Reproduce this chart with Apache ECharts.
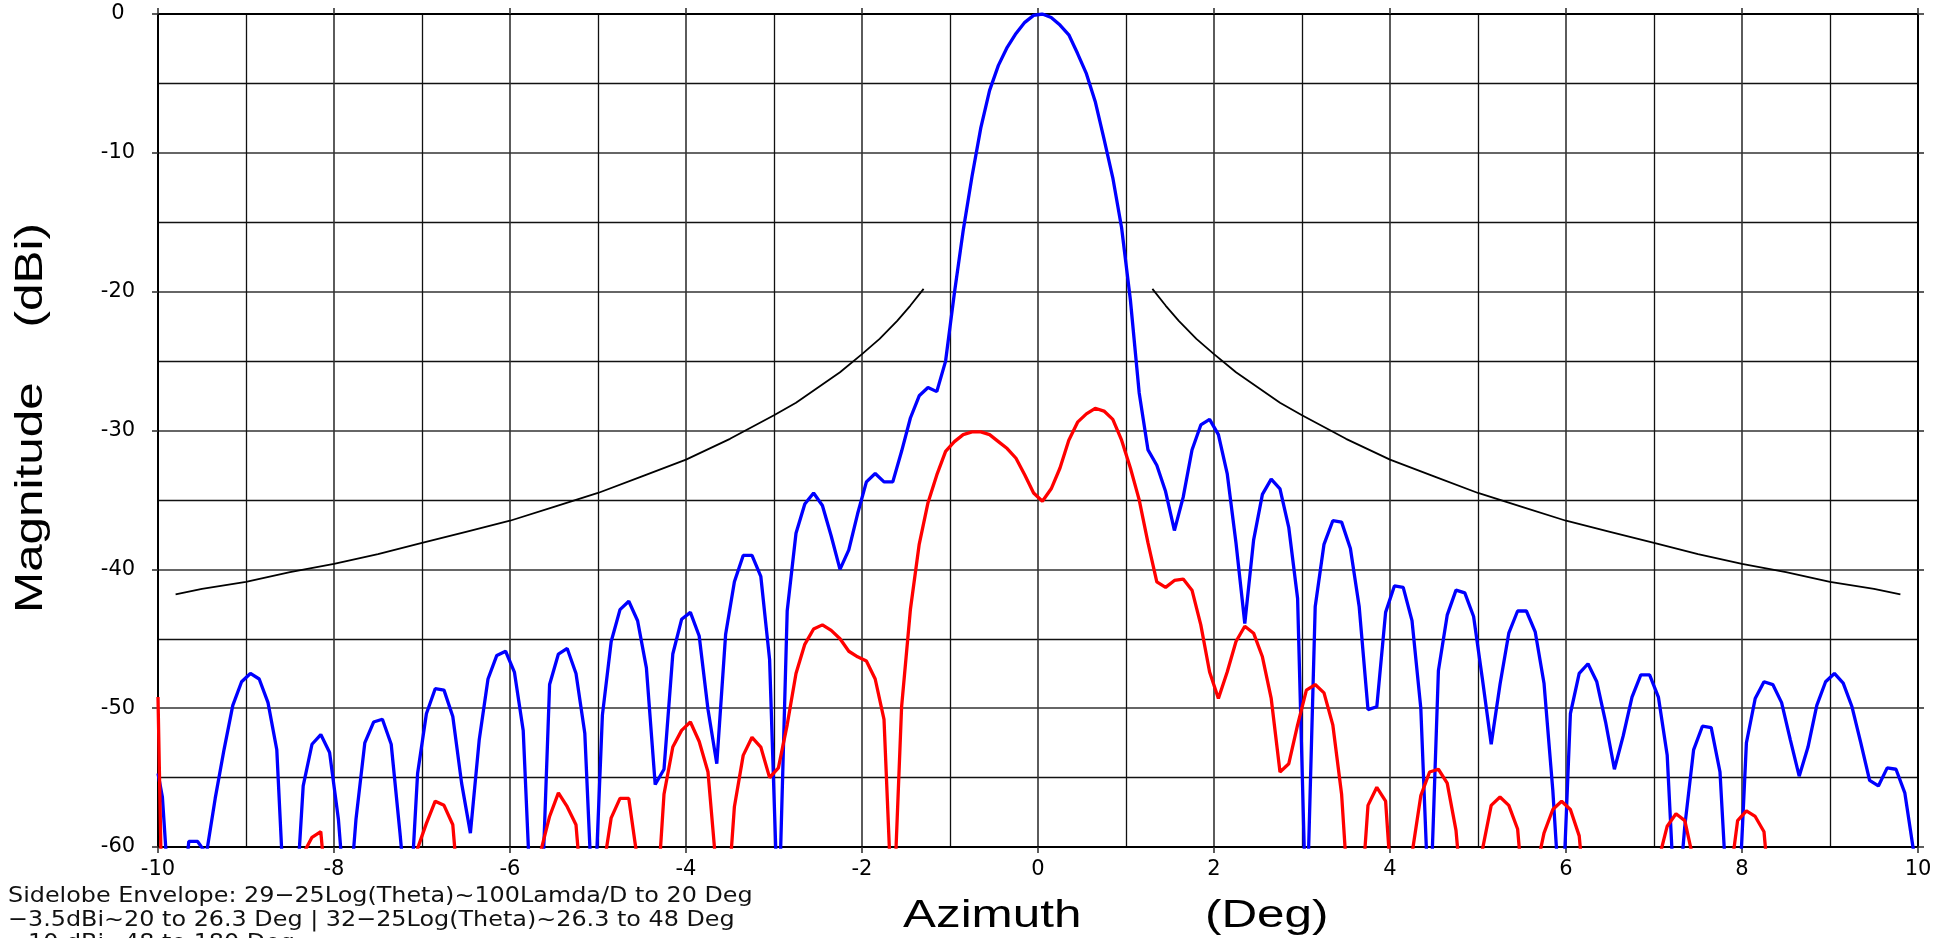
<!DOCTYPE html>
<html>
<head>
<meta charset="utf-8">
<title>Antenna pattern</title>
<script src="https://cdn.jsdelivr.net/npm/echarts@6/dist/echarts.min.js"></script>
<style>
html,body{margin:0;padding:0;background:#ffffff;}
#chart{width:1940px;height:938px;}
</style>
</head>
<body>
<div id="chart"></div>
<script>
// Azimuth samples (deg)
const azimuth = [
 -10,-9.95,-9.85,-9.75,-9.65,-9.55,-9.45,-9.35,-9.25,-9.15,
 -9.05,-8.95,-8.85,-8.75,-8.65,-8.55,-8.45,-8.35,-8.25,-8.15,
 -8.05,-7.95,-7.85,-7.75,-7.65,-7.55,-7.45,-7.35,-7.25,-7.15,
 -7.05,-6.95,-6.85,-6.75,-6.65,-6.55,-6.45,-6.35,-6.25,-6.15,
 -6.05,-5.95,-5.85,-5.75,-5.65,-5.55,-5.45,-5.35,-5.25,-5.15,
 -5.05,-4.95,-4.85,-4.75,-4.65,-4.55,-4.45,-4.35,-4.25,-4.15,
 -4.05,-3.95,-3.85,-3.75,-3.65,-3.55,-3.45,-3.35,-3.25,-3.15,
 -3.05,-2.95,-2.85,-2.75,-2.65,-2.55,-2.45,-2.35,-2.25,-2.15,
 -2.05,-1.95,-1.85,-1.75,-1.65,-1.55,-1.45,-1.35,-1.25,-1.15,
 -1.05,-0.95,-0.85,-0.75,-0.65,-0.55,-0.45,-0.35,-0.25,-0.15,
 -0.05,0.05,0.15,0.25,0.35,0.45,0.55,0.65,0.75,0.85,
 0.95,1.05,1.15,1.25,1.35,1.45,1.55,1.65,1.75,1.85,
 1.95,2.05,2.15,2.25,2.35,2.45,2.55,2.65,2.75,2.85,
 2.95,3.05,3.15,3.25,3.35,3.45,3.55,3.65,3.75,3.85,
 3.95,4.05,4.15,4.25,4.35,4.45,4.55,4.65,4.75,4.85,
 4.95,5.05,5.15,5.25,5.35,5.45,5.55,5.65,5.75,5.85,
 5.95,6.05,6.15,6.25,6.35,6.45,6.55,6.65,6.75,6.85,
 6.95,7.05,7.15,7.25,7.35,7.45,7.55,7.65,7.75,7.85,
 7.95,8.05,8.15,8.25,8.35,8.45,8.55,8.65,8.75,8.85,
 8.95,9.05,9.15,9.25,9.35,9.45,9.55,9.65,9.75,9.85,
 9.95,10
];

// Blue pattern (dBi, normalised)
const blueMagnitude = [
 -54.7,-56.4,-66,-66,-59.6,-59.6,-60.5,-56.5,-53.0,-49.8,
 -48.1,-47.5,-47.9,-49.6,-53.0,-66,-66,-55.6,-52.6,-51.9,
 -53.2,-58.0,-66,-58.0,-52.5,-51.0,-50.8,-52.6,-59.0,-66,
 -54.7,-50.4,-48.6,-48.7,-50.6,-55.4,-59.0,-52.3,-47.9,-46.2,
 -45.9,-47.4,-51.6,-66,-66,-48.3,-46.1,-45.7,-47.5,-51.8,
 -66,-50.5,-45.2,-42.9,-42.3,-43.7,-47.1,-55.5,-54.4,-46.1,
 -43.6,-43.1,-44.8,-50.1,-54.0,-44.7,-40.9,-39.0,-39.0,-40.5,
 -46.5,-66,-43.0,-37.4,-35.3,-34.5,-35.4,-37.6,-40.0,-38.6,
 -36.0,-33.7,-33.1,-33.7,-33.7,-31.5,-29.1,-27.5,-26.9,-27.2,
 -25.0,-20.1,-15.6,-11.7,-8.2,-5.5,-3.7,-2.4,-1.4,-0.6,
 -0.1,0,-0.25,-0.8,-1.5,-2.85,-4.3,-6.3,-9.0,-11.8,
 -15.4,-20.6,-27.3,-31.4,-32.5,-34.4,-37.2,-34.8,-31.4,-29.6,
 -29.2,-30.3,-33.1,-38.1,-43.9,-37.9,-34.6,-33.5,-34.2,-37.0,
 -42.1,-66,-42.7,-38.2,-36.5,-36.6,-38.5,-42.7,-50.1,-49.9,
 -43.1,-41.2,-41.3,-43.7,-50.0,-66,-47.3,-43.3,-41.5,-41.7,
 -43.4,-47.9,-52.6,-48.3,-44.6,-43.0,-43.0,-44.5,-48.2,-55.9,
 -66,-50.4,-47.5,-46.8,-48.1,-51.0,-54.4,-52.0,-49.2,-47.6,
 -47.6,-49.2,-53.4,-66,-58.5,-53.0,-51.3,-51.4,-54.6,-66,
 -66,-52.5,-49.3,-48.1,-48.3,-49.6,-52.3,-54.9,-52.8,-49.8,
 -48.1,-47.5,-48.2,-49.9,-52.5,-55.2,-55.6,-54.3,-54.4,-56.1,
 -60.3,-66
];

// Red pattern (dBi, normalised)
const redMagnitude = [
 -49.2,-66,-66,-66,-66,-66,-66,-66,-66,-66,
 -66,-66,-66,-66,-66,-66,-66,-60.5,-59.3,-58.9,
 -66,-66,-66,-66,-66,-66,-66,-66,-66,-66,
 -60.1,-58.3,-56.7,-57.0,-58.4,-66,-66,-66,-66,-66,
 -66,-66,-66,-66,-60.3,-57.8,-56.1,-57.1,-58.4,-66,
 -66,-62,-57.9,-56.5,-56.5,-61,-66,-66,-56.2,-52.8,
 -51.6,-51.0,-52.4,-54.6,-62,-66,-57.1,-53.4,-52.1,-52.8,
 -55.0,-54.3,-51.2,-47.5,-45.4,-44.3,-44.0,-44.4,-45.0,-45.9,
 -46.3,-46.6,-47.9,-50.8,-66,-49.9,-42.9,-38.2,-35.2,-33.2,
 -31.5,-30.8,-30.3,-30.1,-30.1,-30.3,-30.8,-31.3,-32.0,-33.2,
 -34.5,-35.1,-34.2,-32.7,-30.7,-29.4,-28.8,-28.4,-28.6,-29.2,
 -30.7,-32.7,-35.0,-38.1,-40.9,-41.3,-40.8,-40.7,-41.5,-44.0,
 -47.4,-49.3,-47.4,-45.2,-44.1,-44.6,-46.3,-49.3,-54.6,-54.0,
 -51.2,-48.7,-48.3,-48.9,-51.2,-56.2,-66,-66,-57.0,-55.7,
 -56.7,-66,-66,-60.5,-56.3,-54.6,-54.4,-55.4,-58.8,-66,
 -66,-60.2,-57.0,-56.4,-57.0,-58.7,-66,-62,-59.0,-57.3,
 -56.7,-57.3,-59.2,-66,-66,-66,-66,-66,-66,-66,
 -66,-61,-58.5,-57.6,-58.1,-61,-66,-66,-66,-63,
 -58.1,-57.4,-57.8,-58.9,-66,-66,-66,-66,-66,-66,
 -66,-66,-66,-66,-66,-66,-66,-66,-66,-66,
 -66,-66
];

// Sidelobe envelope (black)
const envelopeLeftAz = [-9.8,-9.5,-9,-8.5,-8,-7.5,-7,-6.5,-6,-5.5,-5,-4.5,-4,-3.5,-3,-2.75,-2.5,-2.25,-2,-1.8,-1.6,-1.45,-1.3];
const envelopeLeftDb = [-41.8,-41.4,-40.9,-40.2,-39.6,-38.9,-38.1,-37.3,-36.5,-35.5,-34.5,-33.3,-32.1,-30.6,-28.9,-28.0,-26.9,-25.8,-24.5,-23.4,-22.1,-21.0,-19.8];
const envelopeRightAz = [1.3,1.45,1.6,1.8,2,2.25,2.5,2.75,3,3.5,4,4.5,5,5.5,6,6.5,7,7.5,8,8.5,9,9.5,9.8];
const envelopeRightDb = [-19.8,-21.0,-22.1,-23.4,-24.5,-25.8,-26.9,-28.0,-28.9,-30.6,-32.1,-33.3,-34.5,-35.5,-36.5,-37.3,-38.1,-38.9,-39.6,-40.2,-40.9,-41.4,-41.8];

// Axis settings / labels
const xTickLabels = [-10,-8,-6,-4,-2,0,2,4,6,8,10];
const yTickLabels = [0,-10,-20,-30,-40,-50,-60];
const xTitle = 'Azimuth         (Deg)';
const yTitle = 'Magnitude    (dBi)';
const footnoteLines = [
 'Sidelobe Envelope: 29\u221225Log(Theta)~100Lamda/D to 20 Deg',
 '\u22123.5dBi~20 to 26.3 Deg | 32\u221225Log(Theta)~26.3 to 48 Deg',
 '\u221210 dBi~48 to 180 Deg'
];

const pairs = (xs, ys) => xs.map((x, i) => [x, ys[i]]);

const gridLine = {color: '#333333', width: 1.6};
const tickStyle = {color: '#333333', width: 1.6};
const labelFont = {color: '#000', fontFamily: 'DejaVu Sans', fontSize: 21};

const chart = echarts.init(document.getElementById('chart'), null, {width: 1940, height: 938});
chart.setOption({
  animation: false,
  backgroundColor: '#ffffff',
  grid: {left: 158, right: 22, top: 14, bottom: 91, containLabel: false},
  xAxis: [
    {
      type: 'value', min: xTickLabels[0], max: xTickLabels[xTickLabels.length - 1], interval: 2,
      position: 'bottom',
      axisLine: {show: true, onZero: false, lineStyle: {color: '#000', width: 2}},
      axisTick: {show: true, inside: false, length: 6, lineStyle: tickStyle},
      axisLabel: Object.assign({margin: 12, formatter: v => xTickLabels.includes(v) ? String(v) : ''}, labelFont),
      splitLine: {show: true, lineStyle: gridLine},
      minorTick: {show: false, splitNumber: 2},
      minorSplitLine: {show: true, lineStyle: {color: '#111', width: 1.3}}
    },
    {
      type: 'value', min: xTickLabels[0], max: xTickLabels[xTickLabels.length - 1], interval: 2,
      position: 'top',
      axisLine: {show: true, onZero: false, lineStyle: {color: '#000', width: 2}},
      axisTick: {show: true, inside: false, length: 6, lineStyle: tickStyle},
      axisLabel: {show: false},
      splitLine: {show: false}
    }
  ],
  yAxis: [
    {
      type: 'value', min: yTickLabels[yTickLabels.length - 1], max: yTickLabels[0], interval: 10,
      position: 'left',
      axisLine: {show: true, onZero: false, lineStyle: {color: '#000', width: 2}},
      axisTick: {show: true, inside: false, length: 6, lineStyle: tickStyle},
      axisLabel: Object.assign({margin: 40, align: 'center'}, labelFont),
      splitLine: {show: true, lineStyle: gridLine},
      minorTick: {show: false, splitNumber: 2},
      minorSplitLine: {show: true, lineStyle: {color: '#111', width: 1.3}}
    },
    {
      type: 'value', min: yTickLabels[yTickLabels.length - 1], max: yTickLabels[0], interval: 10,
      position: 'right',
      axisLine: {show: true, onZero: false, lineStyle: {color: '#000', width: 2}},
      axisTick: {show: true, inside: false, length: 6, lineStyle: tickStyle},
      axisLabel: {show: false},
      splitLine: {show: false}
    }
  ],
  series: [
    {
      name: 'Envelope L', type: 'line', xAxisIndex: 0, yAxisIndex: 0,
      data: pairs(envelopeLeftAz, envelopeLeftDb),
      showSymbol: false, symbol: 'none', clip: true,
      lineStyle: {color: '#000', width: 1.8}, z: 2
    },
    {
      name: 'Envelope R', type: 'line', xAxisIndex: 0, yAxisIndex: 0,
      data: pairs(envelopeRightAz, envelopeRightDb),
      showSymbol: false, symbol: 'none', clip: true,
      lineStyle: {color: '#000', width: 1.8}, z: 2
    },
    {
      name: 'Blue', type: 'line', xAxisIndex: 0, yAxisIndex: 0,
      data: pairs(azimuth, blueMagnitude),
      showSymbol: false, symbol: 'none', clip: true,
      lineStyle: {color: '#0000ff', width: 3.3}, z: 3
    },
    {
      name: 'Red', type: 'line', xAxisIndex: 0, yAxisIndex: 0,
      data: pairs(azimuth, redMagnitude),
      showSymbol: false, symbol: 'none', clip: true,
      lineStyle: {color: '#ff0000', width: 3.3}, z: 4
    }
  ],
  graphic: [
    {
      type: 'text', x: 903, y: 917, scaleX: 1.3, scaleY: 1,
      style: {text: xTitle, fontFamily: 'Liberation Sans', fontSize: 38, fill: '#000',
              textAlign: 'left', textVerticalAlign: 'middle'}
    },
    {
      type: 'text', x: 32, y: 613, rotation: Math.PI / 2, scaleX: 1.3, scaleY: 1,
      style: {text: yTitle, fontFamily: 'Liberation Sans', fontSize: 38, fill: '#000',
              textAlign: 'left', textVerticalAlign: 'middle'}
    },
    {
      type: 'text', x: 8, y: 885, scaleX: 1.085, scaleY: 1,
      style: {text: footnoteLines.join('\n'), fontFamily: 'DejaVu Sans',
              fontSize: 22, lineHeight: 23.5, fill: '#111',
              textAlign: 'left', textVerticalAlign: 'top'}
    }
  ]
});
</script>
</body>
</html>
